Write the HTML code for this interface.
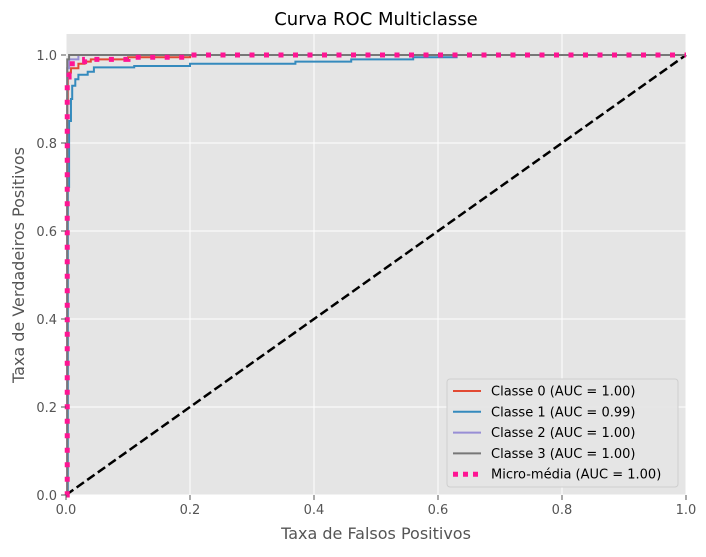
<!DOCTYPE html>
<html><head><meta charset="utf-8"><style>
body{margin:0;background:#fff;font-family:"Liberation Sans","DejaVu Sans",sans-serif}
</style></head><body>
<svg id="chart" width="706" height="552" xmlns="http://www.w3.org/2000/svg" font-family="DejaVu Sans, Liberation Sans, sans-serif">
<rect x="66" y="34" width="620" height="461" fill="#e5e5e5"/>
<g id="grid"></g>
<g id="series"></g>
<text x="376" y="25" text-anchor="middle" font-size="18" fill="#000">Curva ROC Multiclasse</text>
<text x="376" y="539" text-anchor="middle" font-size="16" fill="#555">Taxa de Falsos Positivos</text>
<text transform="translate(24,265) rotate(-90)" text-anchor="middle" font-size="16" fill="#555">Taxa de Verdadeiros Positivos</text>
<g id="legend">
<rect x="447" y="379" width="231" height="108" rx="3" fill="#e5e5e5" stroke="#ccc" opacity="0.9"/>
</g>
</svg>
<script>
const ticks=[0,0.2,0.4,0.6,0.8,1.0];
const tickLabels=["0.0","0.2","0.4","0.6","0.8","1.0"];
const c0x=[0,0.002,0.003,0.008,0.02,0.03,0.04,0.1,0.2,1];
const c0y=[0,0.9,0.96,0.97,0.98,0.985,0.99,0.995,1,1];
const c1x=[0,0.003,0.005,0.008,0.01,0.015,0.02,0.035,0.045,0.11,0.2,0.37,0.46,0.56,0.63,1];
const c1y=[0,0.7,0.85,0.9,0.93,0.945,0.955,0.962,0.972,0.975,0.98,0.985,0.99,0.995,1,1];
const c2x=[0,0.002,0.005,0.02,1];
const c2y=[0,0.97,0.99,1,1];
const c3x=[0,0.002,0.005,1];
const c3y=[0,0.99,1,1];
const mx=[0,0.002,0.005,0.01,0.02,0.03,0.1,0.2,1];
const my=[0,0.95,0.97,0.98,0.985,0.99,0.995,1,1];
const names=["Classe 0 (AUC = 1.00)","Classe 1 (AUC = 0.99)","Classe 2 (AUC = 1.00)","Classe 3 (AUC = 1.00)","Micro-média (AUC = 1.00)"];
const X=v=>66+v*620, Y=v=>495-v*440;
const NS="http://www.w3.org/2000/svg";
function mk(t,a,p){const e=document.createElementNS(NS,t);for(const k in a)e.setAttribute(k,a[k]);p.appendChild(e);return e;}
const grid=document.getElementById('grid'), svg=document.getElementById('chart');
ticks.forEach((t,i)=>{
 const gx=mk('line',{x1:X(t),x2:X(t),y1:34,y2:495,stroke:'#fff','stroke-width':1},grid);
 
 
 const gy=mk('line',{x1:66,x2:686,y1:Y(t),y2:Y(t),stroke:'#fff','stroke-width':1},grid);
 
 
 mk('line',{x1:X(t),x2:X(t),y1:495,y2:500,stroke:'#555'},svg);
 mk('line',{x1:61,x2:66,y1:Y(t),y2:Y(t),stroke:'#555'},svg);
 const tx=mk('text',{x:X(t),y:514,'text-anchor':'middle','font-size':13,fill:'#555'},svg);tx.textContent=tickLabels[i];
 
 
 const ty=mk('text',{x:57,y:Y(t)+5,'text-anchor':'end','font-size':13,fill:'#555'},svg);ty.textContent=tickLabels[i];
 
 
});
const ser=document.getElementById('series');
function step(xs,ys){let d='M'+X(xs[0])+','+Y(ys[0]);for(let i=1;i<xs.length;i++){d+=' L'+X(xs[i])+','+Y(ys[i-1])+' L'+X(xs[i])+','+Y(ys[i]);}return d;}
const diag=mk('line',{x1:X(0),y1:Y(0),x2:X(1),y2:Y(1),stroke:'#000','stroke-width':2.5,'stroke-dasharray':'9,4'},ser);


const cols=['#e24a33','#348abd','#988ed5','#777777','#ff1493'];
const data=[[c0x,c0y],[c1x,c1y],[c2x,c2y],[c3x,c3y]];
data.forEach((s,i)=>{const p=mk('path',{d:step(s[0],s[1]),fill:'none',stroke:cols[i],'stroke-width':2},ser);
 
 });
const mp=mk('path',{d:step(mx,my),fill:'none',stroke:cols[4],'stroke-width':5,'stroke-dasharray':'5,9.5'},ser);


const lg=document.getElementById('legend');
names.forEach((n,i)=>{const y=391+i*20.8;
 const g=mk('g',{},lg);
 
 
 if(i<4)mk('line',{x1:453,x2:481,y1:y,y2:y,stroke:cols[i],'stroke-width':2},g);
 else mk('line',{x1:453,x2:481,y1:y,y2:y,stroke:cols[i],'stroke-width':5,'stroke-dasharray':'5,5'},g);
 const t=mk('text',{x:491,y:y+4.5,'font-size':13,fill:'#000'},g);t.textContent=n;});
</script>
</body></html>
